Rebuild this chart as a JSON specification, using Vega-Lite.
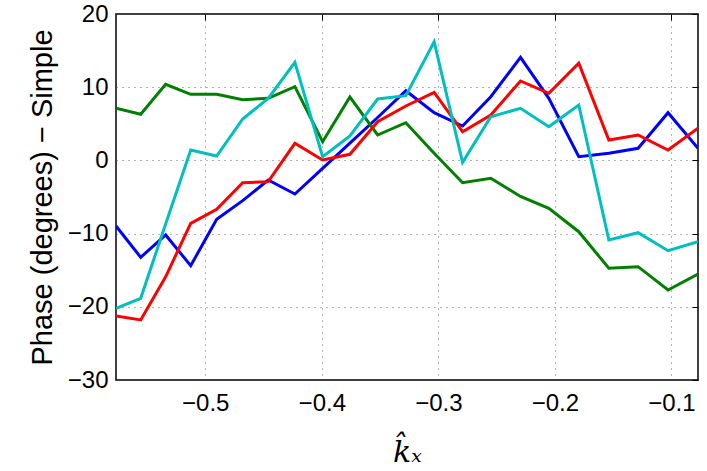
{
  "$schema": "https://vega.github.io/schema/vega-lite/v6.json",
  "width": 582,
  "height": 366,
  "autosize": "none",
  "padding": {"left": 116, "top": 14, "right": 9, "bottom": 91},
  "background": "white",
  "config": {
    "view": {"stroke": "#000", "strokeWidth": 1.5},
    "axis": {"labelFont": "Liberation Sans", "titleFont": "Liberation Sans", "labelColor": "#000", "titleColor": "#000"}
  },
  "data": {"values": [
    {"s": "1", "k": -0.5766, "v": -8.96}, {"s": "1", "k": -0.5554, "v": -13.24}, {"s": "1", "k": -0.5340, "v": -10.19}, {"s": "1", "k": -0.5125, "v": -14.38},
    {"s": "1", "k": -0.4902, "v": -8.05}, {"s": "1", "k": -0.4679, "v": -5.5}, {"s": "1", "k": -0.4460, "v": -2.68}, {"s": "1", "k": -0.4231, "v": -4.59},
    {"s": "1", "k": -0.3993, "v": -1.1}, {"s": "1", "k": -0.3759, "v": 2.36}, {"s": "1", "k": -0.3521, "v": 5.86}, {"s": "1", "k": -0.3279, "v": 9.52},
    {"s": "1", "k": -0.3036, "v": 6.52}, {"s": "1", "k": -0.2792, "v": 4.7}, {"s": "1", "k": -0.2550, "v": 8.7}, {"s": "1", "k": -0.2295, "v": 14.08},
    {"s": "1", "k": -0.2052, "v": 8.48}, {"s": "1", "k": -0.1795, "v": 0.5}, {"s": "1", "k": -0.1537, "v": 0.97}, {"s": "1", "k": -0.1286, "v": 1.65},
    {"s": "1", "k": -0.1029, "v": 6.52}, {"s": "1", "k": -0.0772, "v": 1.65},
    {"s": "2", "k": -0.5766, "v": 7.12}, {"s": "2", "k": -0.5554, "v": 6.30}, {"s": "2", "k": -0.5340, "v": 10.40}, {"s": "2", "k": -0.5125, "v": 9.03},
    {"s": "2", "k": -0.4902, "v": 9.03}, {"s": "2", "k": -0.4679, "v": 8.29}, {"s": "2", "k": -0.4460, "v": 8.48}, {"s": "2", "k": -0.4231, "v": 10.07},
    {"s": "2", "k": -0.3993, "v": 2.55}, {"s": "2", "k": -0.3759, "v": 8.66}, {"s": "2", "k": -0.3521, "v": 3.47}, {"s": "2", "k": -0.3279, "v": 5.15},
    {"s": "2", "k": -0.3036, "v": 0.98}, {"s": "2", "k": -0.2792, "v": -3.05}, {"s": "2", "k": -0.2550, "v": -2.45}, {"s": "2", "k": -0.2295, "v": -4.93},
    {"s": "2", "k": -0.2052, "v": -6.54}, {"s": "2", "k": -0.1795, "v": -9.74}, {"s": "2", "k": -0.1537, "v": -14.74}, {"s": "2", "k": -0.1286, "v": -14.52},
    {"s": "2", "k": -0.1029, "v": -17.7}, {"s": "2", "k": -0.0772, "v": -15.52},
    {"s": "3", "k": -0.5766, "v": -21.26}, {"s": "3", "k": -0.5554, "v": -21.8}, {"s": "3", "k": -0.5340, "v": -15.9}, {"s": "3", "k": -0.5125, "v": -8.6},
    {"s": "3", "k": -0.4902, "v": -6.68}, {"s": "3", "k": -0.4679, "v": -3.05}, {"s": "3", "k": -0.4460, "v": -2.9}, {"s": "3", "k": -0.4231, "v": 2.34},
    {"s": "3", "k": -0.3993, "v": 0.05}, {"s": "3", "k": -0.3759, "v": 0.83}, {"s": "3", "k": -0.3521, "v": 5.29}, {"s": "3", "k": -0.3279, "v": 7.43},
    {"s": "3", "k": -0.3036, "v": 9.3}, {"s": "3", "k": -0.2792, "v": 3.92}, {"s": "3", "k": -0.2550, "v": 6.2}, {"s": "3", "k": -0.2295, "v": 10.85},
    {"s": "3", "k": -0.2052, "v": 9.17}, {"s": "3", "k": -0.1795, "v": 13.27}, {"s": "3", "k": -0.1537, "v": 2.79}, {"s": "3", "k": -0.1286, "v": 3.47},
    {"s": "3", "k": -0.1029, "v": 1.42}, {"s": "3", "k": -0.0772, "v": 4.39},
    {"s": "4", "k": -0.5766, "v": -20.2}, {"s": "4", "k": -0.5554, "v": -18.84}, {"s": "4", "k": -0.5340, "v": -8.7}, {"s": "4", "k": -0.5125, "v": 1.42},
    {"s": "4", "k": -0.4902, "v": 0.60}, {"s": "4", "k": -0.4679, "v": 5.66}, {"s": "4", "k": -0.4460, "v": 8.46}, {"s": "4", "k": -0.4231, "v": 13.4},
    {"s": "4", "k": -0.3993, "v": 0.5}, {"s": "4", "k": -0.3759, "v": 3.33}, {"s": "4", "k": -0.3521, "v": 8.39}, {"s": "4", "k": -0.3279, "v": 8.84},
    {"s": "4", "k": -0.3036, "v": 16.2}, {"s": "4", "k": -0.2792, "v": -0.26}, {"s": "4", "k": -0.2550, "v": 5.97}, {"s": "4", "k": -0.2295, "v": 7.12},
    {"s": "4", "k": -0.2052, "v": 4.6}, {"s": "4", "k": -0.1795, "v": 7.57}, {"s": "4", "k": -0.1537, "v": -10.87}, {"s": "4", "k": -0.1286, "v": -9.88},
    {"s": "4", "k": -0.1029, "v": -12.34}, {"s": "4", "k": -0.0772, "v": -11.1}
  ]},
  "layer": [
    {
      "mark": {"type": "line", "strokeWidth": 3, "clip": true},
      "encoding": {
        "x": {"field": "k", "type": "quantitative",
          "scale": {"domain": [-0.5766, -0.0772], "nice": false, "zero": false},
          "axis": {"orient": "bottom", "values": [-0.5, -0.4, -0.3, -0.2, -0.1], "format": ".1f",
            "labelFontSize": 24, "labelPadding": 11, "ticks": false, "domain": false,
            "grid": true, "gridColor": "#444", "gridDash": [1, 5], "gridWidth": 1, "gridOpacity": 0.8,
            "title": "k̂ₓ", "titleFont": "DejaVu Serif", "titleFontStyle": "italic", "titleFontWeight": "normal", "titleFontSize": 30, "titlePadding": 22}},
        "y": {"field": "v", "type": "quantitative",
          "scale": {"domain": [-30, 20], "nice": false, "zero": false},
          "axis": {"orient": "left", "values": [-30, -20, -10, 0, 10, 20], "format": "d",
            "labelFontSize": 24, "labelPadding": 8, "ticks": false, "domain": false,
            "grid": true, "gridColor": "#444", "gridDash": [1, 5], "gridWidth": 1, "gridOpacity": 0.8,
            "title": "Phase (degrees) − Simple", "titleFontSize": 29, "titleFontWeight": "normal", "titlePadding": 10}},
        "color": {"field": "s", "type": "nominal", "legend": null,
          "scale": {"domain": ["1", "2", "3", "4"], "range": ["#0000ff", "#008000", "#ff0000", "#00bfbf"]}}
      }
    },
    {
      "mark": {"type": "line", "opacity": 0},
      "encoding": {
        "x": {"field": "k", "type": "quantitative",
          "axis": {"orient": "top", "values": [-0.5, -0.4, -0.3, -0.2, -0.1], "labels": false, "domain": false, "grid": false,
            "ticks": true, "tickSize": -6, "tickColor": "#000", "tickWidth": 1, "title": null}},
        "y": {"field": "v", "type": "quantitative",
          "axis": {"orient": "right", "values": [-30, -20, -10, 0, 10, 20], "labels": false, "domain": false, "grid": false,
            "ticks": true, "tickSize": -6, "tickColor": "#000", "tickWidth": 1, "title": null}},
        "detail": {"field": "s"}
      }
    }
  ],
  "resolve": {"axis": {"x": "independent", "y": "independent"}}
}
